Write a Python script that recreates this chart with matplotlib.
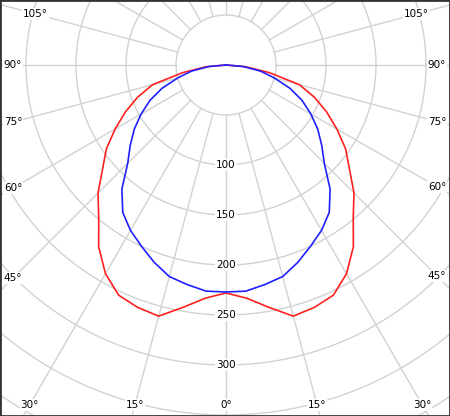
import numpy as np
import matplotlib.pyplot as plt

# angle from nadir (deg) and intensity (cd/klm)
angles = [0, 5, 10, 15, 20, 25, 30, 35, 40, 45, 50, 55, 60, 65, 70, 75, 80, 85, 90]
c0_180 = [228, 234, 246, 260, 258, 254, 241, 222, 198, 181, 161, 146, 128, 111, 94, 76, 44, 20, 0]
c90_270 = [227, 227, 223, 219, 210, 200, 191, 180, 162, 139, 125, 112, 98, 84, 68, 50, 35, 17, 0]
ring_labels = [100, 150, 200, 250, 300]
angle_labels = [0, 15, 30, 45, 60, 75, 90, 105]

fig = plt.figure(figsize=(4.5, 4.16), dpi=100)
ax = fig.add_axes([0, 0, 1, 1])
xmin, xmax, ymin, ymax = -226, 224, -351, 65
ax.set_xlim(xmin, xmax)
ax.set_ylim(ymin, ymax)
ax.set_aspect('equal')
ax.set_xticks([])
ax.set_yticks([])
for s in ax.spines.values():
    s.set_color('#333333')
    s.set_linewidth(2)

grid = '#d2d2d2'
t = np.linspace(0, 2 * np.pi, 400)
for r in range(50, 501, 50):
    ax.plot(r * np.cos(t), r * np.sin(t), color=grid, lw=1, zorder=1)
for a in range(0, 360, 15):
    th = np.radians(a)
    ax.plot([50 * np.sin(th), 600 * np.sin(th)], [-50 * np.cos(th), -600 * np.cos(th)],
            color=grid, lw=1, zorder=1)


def curve(vals):
    th = np.radians(np.concatenate([-np.array(angles[::-1]), angles[1:]]))
    r = np.concatenate([vals[::-1], vals[1:]])
    return r * np.sin(th), -r * np.cos(th)


x, y = curve(np.array(c0_180))
ax.plot(x, y, color='#ff2020', lw=1.2, zorder=3)
x, y = curve(np.array(c90_270))
ax.plot(x, y, color='#2020ff', lw=1.2, zorder=3)

for v in ring_labels:
    ax.text(0, -v, str(v), ha='center', va='center', fontsize=7.5, zorder=4,
            bbox=dict(facecolor='white', edgecolor='none', pad=1))

# angle labels where the spokes meet the frame
bx0, bx1, by0, by1 = xmin + 13, xmax - 13, ymin + 11, ymax - 14
for a in angle_labels:
    for sgn in ([1] if a == 0 else [-1, 1]):
        th = np.radians(a) * sgn
        dx, dy = np.sin(th), -np.cos(th)
        cands = []
        if dx != 0:
            cands.append((bx1 if dx > 0 else bx0) / dx)
        if dy != 0:
            cands.append((by1 if dy > 0 else by0) / dy)
        k = min(c for c in cands if c > 0)
        ax.text(k * dx, k * dy, f'{a}°', ha='center', va='center', fontsize=7.5, zorder=4,
                bbox=dict(facecolor='white', edgecolor='none', pad=0.5))

fig.savefig('out.png', dpi=100)
